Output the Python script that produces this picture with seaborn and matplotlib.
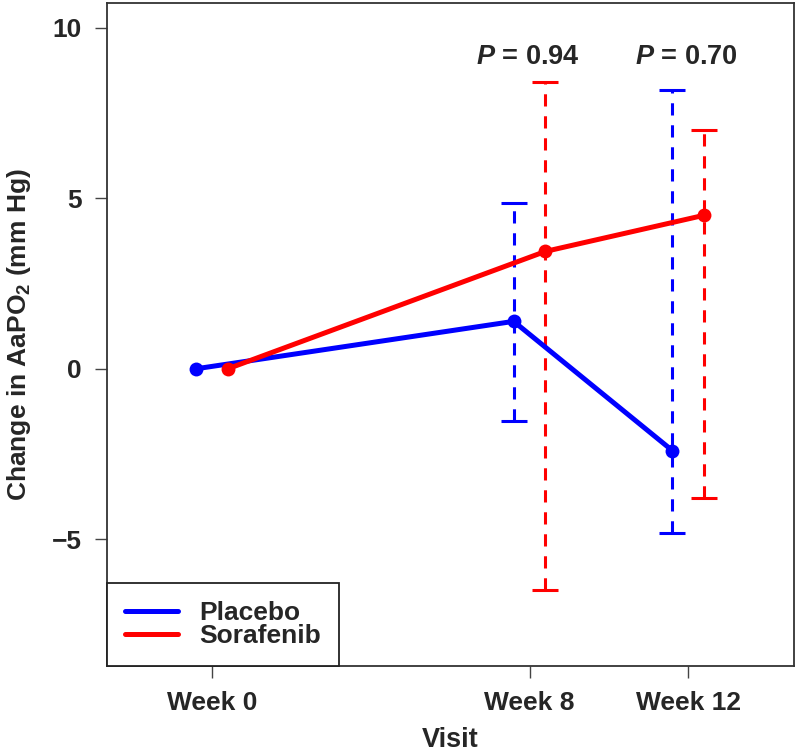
import numpy as np
import pandas as pd
import matplotlib
matplotlib.use("Agg")
import matplotlib.pyplot as plt
from matplotlib.lines import Line2D
import seaborn as sns

# ---- data ----
weeks = [0, 8, 12]
week_labels = ["Week 0", "Week 8", "Week 12"]
groups = ["Placebo", "Sorafenib"]
offsets = [-0.4, 0.4]

placebo_mean = [0.0, 1.39, -2.40]
placebo_lo = [np.nan, -1.54, -4.80]
placebo_hi = [np.nan, 4.86, 8.18]

sorafenib_mean = [0.0, 3.44, 4.50]
sorafenib_lo = [np.nan, -6.48, -3.80]
sorafenib_hi = [np.nan, 8.41, 7.01]

p_values = ["0.94", "0.70"]
p_weeks = [8, 12]

colors = {"Placebo": "#0000ff", "Sorafenib": "#ff0000"}

sns.set_style("white")
plt.rcParams["font.family"] = ["Liberation Sans", "DejaVu Sans"]
plt.rcParams["font.weight"] = "bold"
plt.rcParams["mathtext.fontset"] = "custom"
plt.rcParams["mathtext.rm"] = "Liberation Sans:bold"
plt.rcParams["mathtext.bf"] = "Liberation Sans:bold"
plt.rcParams["mathtext.it"] = "Liberation Sans:italic:bold"
plt.rcParams["mathtext.bfit"] = "Liberation Sans:italic:bold"
plt.rcParams["mathtext.default"] = "bf"

rows = []
for g, off, m, lo, hi in [("Placebo", offsets[0], placebo_mean, placebo_lo, placebo_hi),
                          ("Sorafenib", offsets[1], sorafenib_mean, sorafenib_lo, sorafenib_hi)]:
    for w, mv, l, h in zip(weeks, m, lo, hi):
        rows.append({"group": g, "x": w + off, "change": mv, "lo": l, "hi": h})
df = pd.DataFrame(rows)

fig = plt.figure(figsize=(8, 7.55), dpi=100)
ax = fig.add_axes([107 / 800, 1 - 666 / 755, 687 / 800, 663 / 755])

# dashed error bars with solid caps
for g in groups:
    sub = df[(df["group"] == g) & df["lo"].notna()]
    eb = ax.errorbar(sub["x"], sub["change"],
                     yerr=[sub["change"] - sub["lo"], sub["hi"] - sub["change"]],
                     fmt="none", ecolor=colors[g], elinewidth=2.2,
                     capsize=9.7, capthick=2.2, zorder=2)
    eb[2][0].set_linestyle((0, (4.0, 3.2)))

sns.lineplot(data=df, x="x", y="change", hue="group", palette=colors,
             marker="o", markersize=10, markeredgewidth=0, linewidth=3.6,
             legend=False, ax=ax, zorder=3, sort=False)

for pw, pv in zip(p_weeks, p_values):
    ax.text(pw - 0.05, 9.15, r"$\mathbfit{P}$ = " + pv, ha="center", va="center",
            fontsize=19.5, fontweight="bold")

ax.set_xlim(-2.64, 14.66)
ax.set_ylim(-8.71, 10.72)
ax.set_xticks(weeks)
ax.set_xticklabels(week_labels)
ax.set_yticks([-5, 0, 5, 10])
ax.set_yticklabels(["\u22125", "0", "5", "10"])
ax.tick_params(axis="both", direction="out", length=8.6, width=1.0,
               color="#444444", labelsize=19, pad=9.5, left=True, bottom=True)
for sp in ax.spines.values():
    sp.set_color("#333333")
    sp.set_linewidth(1.3)

ax.set_xlabel("Visit", fontsize=19.5, fontweight="bold", va="top")
ax.xaxis.set_label_coords(0.5, -0.092)
ax.set_ylabel("Change in AaPO$_2$ (mm Hg)", fontsize=19, fontweight="bold")
ax.yaxis.set_label_coords(-0.107, 0.5)

handles = [Line2D([], [], color=colors[g], linewidth=3.6) for g in groups]
leg = ax.legend(handles, groups, loc="lower left", bbox_to_anchor=(0, 0),
                borderaxespad=0, fancybox=False, framealpha=1,
                edgecolor="#222222", handlelength=2.0,
                handletextpad=0.8, labelspacing=-0.05, borderpad=0.68,
                prop={"weight": "bold", "size": 19})
leg.get_frame().set_linewidth(1.3)

fig.savefig("out.png", dpi=100)
